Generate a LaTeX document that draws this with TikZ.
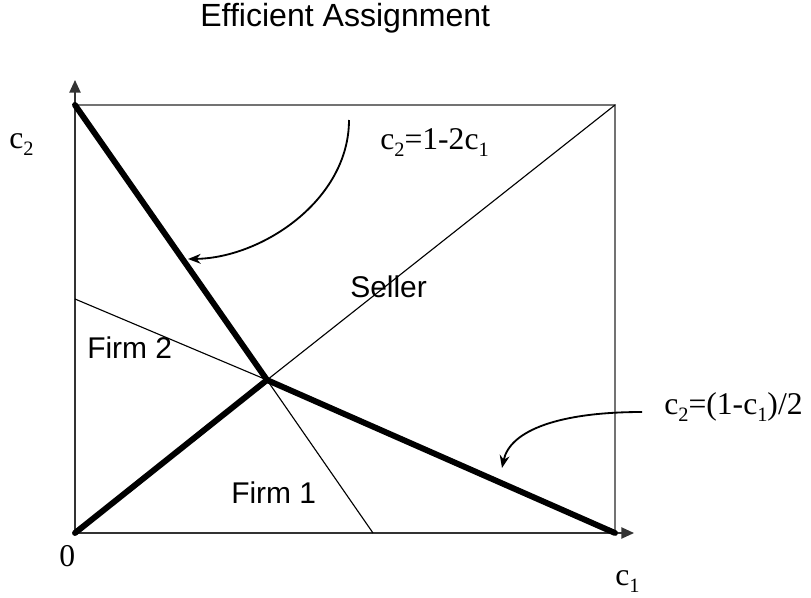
\documentclass[tikz,border=0pt]{standalone}
\usepackage{fontspec}
\setmainfont{Liberation Serif}
\newfontfamily\arialfont{Liberation Sans}
\usepackage{tikz}
\usetikzlibrary{arrows.meta}

% lowered subscript as in the slide
\newcommand{\lowsub}[1]{\raisebox{-5.5pt}{\fontsize{14.5}{15}\selectfont #1}}

\begin{document}
\begin{tikzpicture}[
  x=0.025cm, y=-0.025cm,
  thickline/.style={line width=4.2pt, line cap=round, line join=round},
  thinline/.style={line width=0.8pt},
  boxline/.style={line width=0.8pt, draw=black!55},
  axis/.style={line width=1.1pt, draw=black!80,
               -{Triangle[length=9pt, width=8pt]}},
  curvearrow/.style={line width=1.3pt, -{Stealth[length=9pt, width=7pt]}},
  sanslabel/.style={inner sep=0pt, anchor=base west,
                    font=\arialfont\fontsize{21.3}{25}\selectfont},
  seriflabel/.style={inner sep=0pt, anchor=base west,
                     font=\fontsize{22.5}{26}\selectfont},
]
  \useasboundingbox (0,0) rectangle (811,598);

  % Corner points of the unit square
  \coordinate (orig) at (75,533);
  \coordinate (top) at (75,105);
  \coordinate (topright) at (615,105);
  \coordinate (right) at (615,533);
  \coordinate (meet) at (267,380);
  \coordinate (firmtwo) at (75,299);
  \coordinate (firmone) at (373,533);
  \coordinate (ytip) at (75,80);
  \coordinate (xtip) at (634,533);

  % Box
  \draw[boxline] (top) -- (topright) -- (right);

  % Axes
  \draw[axis] (orig) -- (ytip);
  \draw[axis] (orig) -- (xtip);

  % Thin boundary lines
  \draw[thinline] (firmtwo) -- (meet);
  \draw[thinline] (meet) -- (firmone);
  \draw[thinline] (meet) -- (topright);

  % Efficient boundaries
  \draw[thickline] (top) -- (meet);
  \draw[thickline] (orig) -- (meet);
  \draw[thickline] (meet) -- (right);

  % Title
  \node[sanslabel, font=\arialfont\fontsize{22.8}{26}\selectfont]
    (title) at (200,27) {Efficient Assignment};

  % Region labels
  \node[sanslabel] (seller) at (350,297) {Seller};
  \node[sanslabel] (firm2) at (87,358) {Firm 2};
  \node[sanslabel] (firm1) at (231,503) {Firm 1};

  % Axis labels
  \node[seriflabel] (ctwo) at (9,148) {c\lowsub{2}};
  \node[seriflabel] (cone) at (615,585) {c\lowsub{1}};
  \node[seriflabel] (zero) at (59,566) {0};

  % Equations with pointers
  \node[seriflabel] (eqone) at (380,149) {c\lowsub{2}=1-2c\lowsub{1}};
  \node[seriflabel] (eqtwo) at (664,414) {c\lowsub{2}=(1-c\lowsub{1})/2};
  \coordinate (pone) at (349,120);
  \coordinate (ponetip) at (188,259);
  \coordinate (ptwo) at (642,412);
  \coordinate (ptwotip) at (502,468);
  \draw[curvearrow] (pone) .. controls (349,200) and (262,258) .. (ponetip);
  \draw[curvearrow] (ptwo) .. controls (560,412) and (510,430) .. (ptwotip);

\end{tikzpicture}
\end{document}
